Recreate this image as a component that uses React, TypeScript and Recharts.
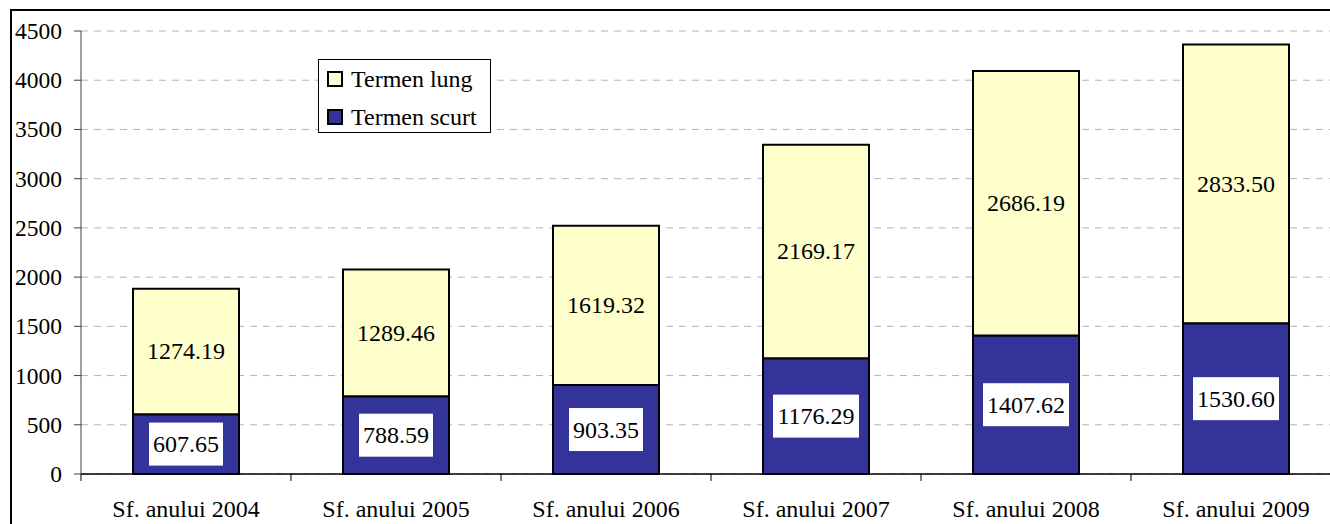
import { Bar, BarChart, CartesianGrid, LabelList, XAxis, YAxis } from "recharts";

const categories = [
  "Sf. anului 2004",
  "Sf. anului 2005",
  "Sf. anului 2006",
  "Sf. anului 2007",
  "Sf. anului 2008",
  "Sf. anului 2009",
];
const termenScurt = [607.65, 788.59, 903.35, 1176.29, 1407.62, 1530.6];
const termenLung = [1274.19, 1289.46, 1619.32, 2169.17, 2686.19, 2833.5];
const yTicks = [0, 500, 1000, 1500, 2000, 2500, 3000, 3500, 4000, 4500];

const FONT = "'Liberation Serif', 'Times New Roman', serif";
const BLUE = "#333399";
const YELLOW = "#FFFFCC";

const data = categories.map((name, i) => ({
  name,
  scurt: termenScurt[i],
  lung: termenLung[i],
}));

function textWidth(s: string, size: number) {
  let w = 0;
  for (const c of s) w += c === "." ? 0.25 : 0.5;
  return w * size;
}

function BoxedLabel(props: any) {
  const { x, y, width, height, value } = props;
  const label = Number(value).toFixed(2);
  const cx = x + width / 2;
  const cy = y + height / 2;
  const tw = textWidth(label, 24) + 8;
  return (
    <g>
      <rect x={cx - tw / 2} y={cy - 21.5} width={tw} height={43} fill="#fff" />
      <text x={cx} y={cy} textAnchor="middle" dominantBaseline="central" style={{ fontFamily: FONT }} fontSize={24} fill="#000">
        {label}
      </text>
    </g>
  );
}

function PlainLabel(props: any) {
  const { x, y, width, height, value } = props;
  return (
    <text
      x={x + width / 2}
      y={y + height / 2}
      textAnchor="middle"
      dominantBaseline="central"
      style={{ fontFamily: FONT }}
      fontSize={24}
      fill="#000"
    >
      {Number(value).toFixed(2)}
    </text>
  );
}

// category label plus tick marks at the band edges
function CategoryTick(props: any) {
  const { x, y, payload, index } = props;
  const half = payload.offset ?? 105;
  return (
    <g>
      <line x1={x - half} x2={x - half} y1={y} y2={y + 7} stroke="#000" />
      {index === categories.length - 1 && <line x1={x + half} x2={x + half} y1={y} y2={y + 7} stroke="#000" />}
      <text x={x} y={y + 43} textAnchor="middle" style={{ fontFamily: FONT }} fontSize={24} fill="#000">
        {payload.value}
      </text>
    </g>
  );
}

function ValueTick(props: any) {
  const { x, y, payload } = props;
  return (
    <text x={x} y={y} textAnchor="end" dominantBaseline="central" style={{ fontFamily: FONT }} fontSize={23.5} fill="#000">
      {payload.value}
    </text>
  );
}

function LegendBox() {
  const items = [
    { label: "Termen lung", color: YELLOW },
    { label: "Termen scurt", color: BLUE },
  ];
  return (
    <div
      style={{
        position: "absolute",
        left: 318,
        top: 59,
        width: 171,
        height: 72,
        border: "1px solid #000",
        background: "#fff",
        fontFamily: FONT,
        fontSize: 24,
      }}
    >
      {items.map((it, i) => (
        <div
          key={it.label}
          style={{ position: "absolute", left: 0, top: i === 0 ? 1 : 39, display: "flex", alignItems: "center", height: 36 }}
        >
          <span
            style={{
              display: "inline-block",
              width: 12,
              height: 12,
              marginLeft: 8,
              marginRight: 8,
              background: it.color,
              border: "2px solid #000",
            }}
          />
          <span style={{ color: "#000", whiteSpace: "nowrap" }}>{it.label}</span>
        </div>
      ))}
    </div>
  );
}

export default function App() {
  return (
    <div style={{ position: "fixed", left: 0, top: 0, width: 1330, height: 524, overflow: "hidden", background: "#fff" }}>
      <div
        style={{
          position: "absolute",
          left: 10,
          top: 9,
          width: 1400,
          height: 600,
          borderLeft: "2px solid #000",
          borderTop: "2px solid #000",
        }}
      />
      <div style={{ position: "absolute", left: 0, top: 0 }}>
        <BarChart
          width={1341}
          height={524}
          data={data}
          margin={{ top: 31, right: 0, left: 0, bottom: 0 }}
          style={{ fontFamily: FONT }}
        >
          <CartesianGrid horizontal vertical={false} stroke="#b3b3b3" strokeDasharray="7 6" />
          <XAxis
            dataKey="name"
            tick={<CategoryTick />}
            tickLine={false}
            tickSize={0}
            tickMargin={0}
            axisLine={{ stroke: "#000", strokeWidth: 1.5 }}
            height={50}
            interval={0}
          />
          <YAxis
            width={81}
            domain={[0, 4500]}
            ticks={yTicks}
            tickSize={7}
            tickMargin={12}
            axisLine={{ stroke: "#404040" }}
            tickLine={{ stroke: "#404040" }}
            tick={<ValueTick />}
            interval={0}
          />
          <Bar dataKey="scurt" stackId="a" fill={BLUE} stroke="#000" strokeWidth={2} barSize={106} isAnimationActive={false}>
            <LabelList dataKey="scurt" content={<BoxedLabel />} />
          </Bar>
          <Bar dataKey="lung" stackId="a" fill={YELLOW} stroke="#000" strokeWidth={2} barSize={106} isAnimationActive={false}>
            <LabelList dataKey="lung" content={<PlainLabel />} />
          </Bar>
        </BarChart>
      </div>
      <LegendBox />
    </div>
  );
}
